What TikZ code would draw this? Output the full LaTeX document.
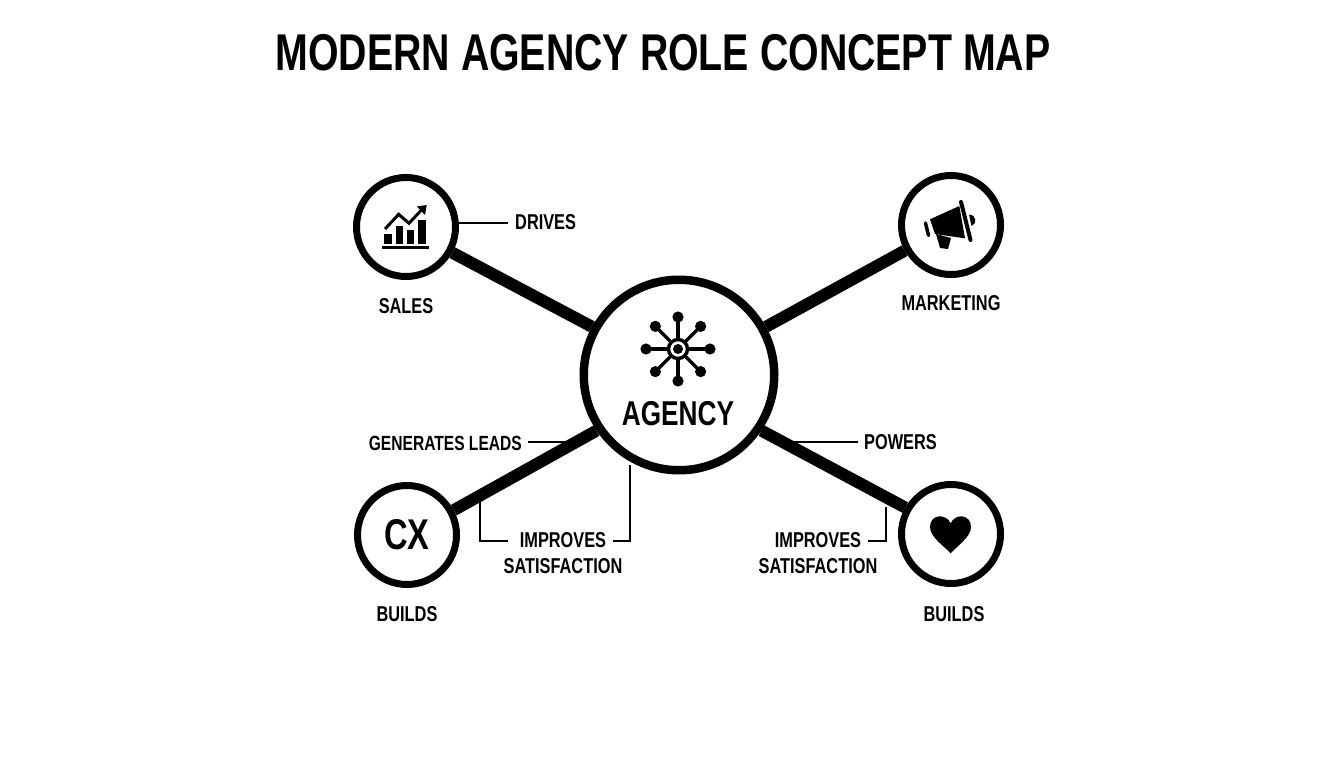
\documentclass[tikz,border=0pt]{standalone}
\usepackage{fontspec}
\usepackage{tikz}
\usetikzlibrary{positioning, calc}
\setmainfont{Liberation Sans}[FakeStretch=0.76]
\tikzstyle{hub} = [circle, draw=black, line width=8.5pt, minimum size=190.5pt, inner sep=0pt, fill=white]
\tikzstyle{role} = [circle, draw=black, line width=7pt, minimum size=99pt, inner sep=0pt, fill=white]
\tikzstyle{caption} = [inner sep=0pt, align=center, font=\bfseries\fontsize{21.5}{25.5}\selectfont]
\tikzstyle{spoke} = [line width=12pt]
\tikzstyle{leader} = [line width=2pt]

\begin{document}
\begin{tikzpicture}[x=1pt, y=-1pt, node distance=79pt, on grid]
	\useasboundingbox (0,0) rectangle (1344,768);
	\node (title) [inner sep=0pt, font=\bfseries\fontsize{51.7}{52}\selectfont] at (663,53) {MODERN AGENCY ROLE CONCEPT MAP};

	\node (agency) [hub] at (679,375) {};
	\node (sales) [role, above left=148pt and 273pt of agency] {};
	\node (marketing) [role, above right=150pt and 272pt of agency] {};
	\node (cx) [role, below left=160pt and 272pt of agency, font=\bfseries\fontsize{43}{43}\selectfont] {CX};
	\node (heart) [role, below right=159pt and 272pt of agency] {};

	\node (agencyname) [inner sep=0pt, font=\bfseries\fontsize{34.5}{35}\selectfont] at (678,414) {AGENCY};
	\node (saleslabel) [caption, below=79pt of sales] {SALES};
	\node (marketinglabel) [caption, below=78pt of marketing] {MARKETING};
	\node (cxlabel) [caption, below=79pt of cx] {BUILDS};
	\node (heartlabel) [caption, below right=80pt and 3pt of heart] {BUILDS};

	\node (drives) [caption, anchor=west] at (515,222.5) {DRIVES};
	\node (generates) [caption, anchor=east, font=\bfseries\fontsize{20.5}{25}\selectfont] at (522,443) {GENERATES LEADS};
	\node (powers) [caption, anchor=west] at (864,442) {POWERS};
	\node (improvesleft) [caption] at (563,553) {IMPROVES\\SATISFACTION};
	\node (improvesright) [caption] at (818,553) {IMPROVES\\SATISFACTION};

	\coordinate (generatesend) at (565,442);
	\coordinate (powersend) at (793,442);
	\coordinate (leftlow) at (480,502);
	\coordinate (lefttext) at (508,541);
	\coordinate (lefthub) at (630,465);
	\coordinate (righttext) at (613,541);
	\coordinate (heartline) at (886,507);
	\coordinate (hearttext) at (868,541);

	\draw [spoke] (agency.151) -- (sales.-29);
	\draw [spoke] (agency.29) -- (marketing.209);
	\draw [spoke] (agency.214.8) -- (cx.28.5);
	\draw [spoke] (agency.-34) -- (heart.150.5);

	\draw [leader] (sales.east |- drives) -- ($(drives.west)+(-7,0)$);
	\draw [leader] ($(generates.east)+(6,-1)$) -- (generatesend);
	\draw [leader] ($(powers.west)+(-6,0)$) -- (powersend);
	\draw [leader] (leftlow) |- (lefttext);
	\draw [leader] (lefthub) |- (righttext);
	\draw [leader] (heartline) |- (hearttext);

	% chart icon
	\fill (384.3,234) rectangle (391.7,244.3);
	\fill (395.7,225.7) rectangle (403.3,244.3);
	\fill (406.7,230) rectangle (414.3,244.3);
	\fill (418.3,220) rectangle (425.7,244.3);
	\draw [line width=3pt] (382,247.2) -- (428.7,247.2);
	\draw [line width=3pt] (385,229) -- (398.7,214.3) -- (409,223.3) -- (423,208.3);
	\fill (417,206.5) -- (426.7,205) -- (425,215) -- cycle;

	% hub icon
	\foreach \ang in {0,45,...,315} {
		\draw [line width=3.2pt] (678,349) -- ++(\ang:32);
		\fill (678,349) ++(\ang:32) circle (5.6);
	}
	\fill [white] (678,349) circle (10);
	\draw [line width=3.4pt] (678,349) circle (9.5);
	\fill (678,349) circle (5);

	% megaphone icon
	\fill (930,219.3) -- (959.3,206) -- (965,238.3) -- (935,234) -- cycle;
	\fill (936,234) -- (951,238) -- (948,249) -- (940,248) -- cycle;
	\draw [line width=4pt, line cap=round] (961,202) -- (970.5,240);
	\draw [line width=3.5pt, line cap=round] (925.5,223) -- (928.5,235.5);
	\fill (969,214.5) .. controls (977,215) and (977,224) .. (971.5,226) -- cycle;

	% heart icon
	\fill (950.7,553.3) .. controls (944,546) and (930,537) .. (930,527)
		.. controls (930,514) and (946,513) .. (950.7,523.3)
		.. controls (955,513) and (971,514) .. (971,527)
		.. controls (971,537) and (957,546) .. (950.7,553.3) -- cycle;
\end{tikzpicture}
\end{document}
